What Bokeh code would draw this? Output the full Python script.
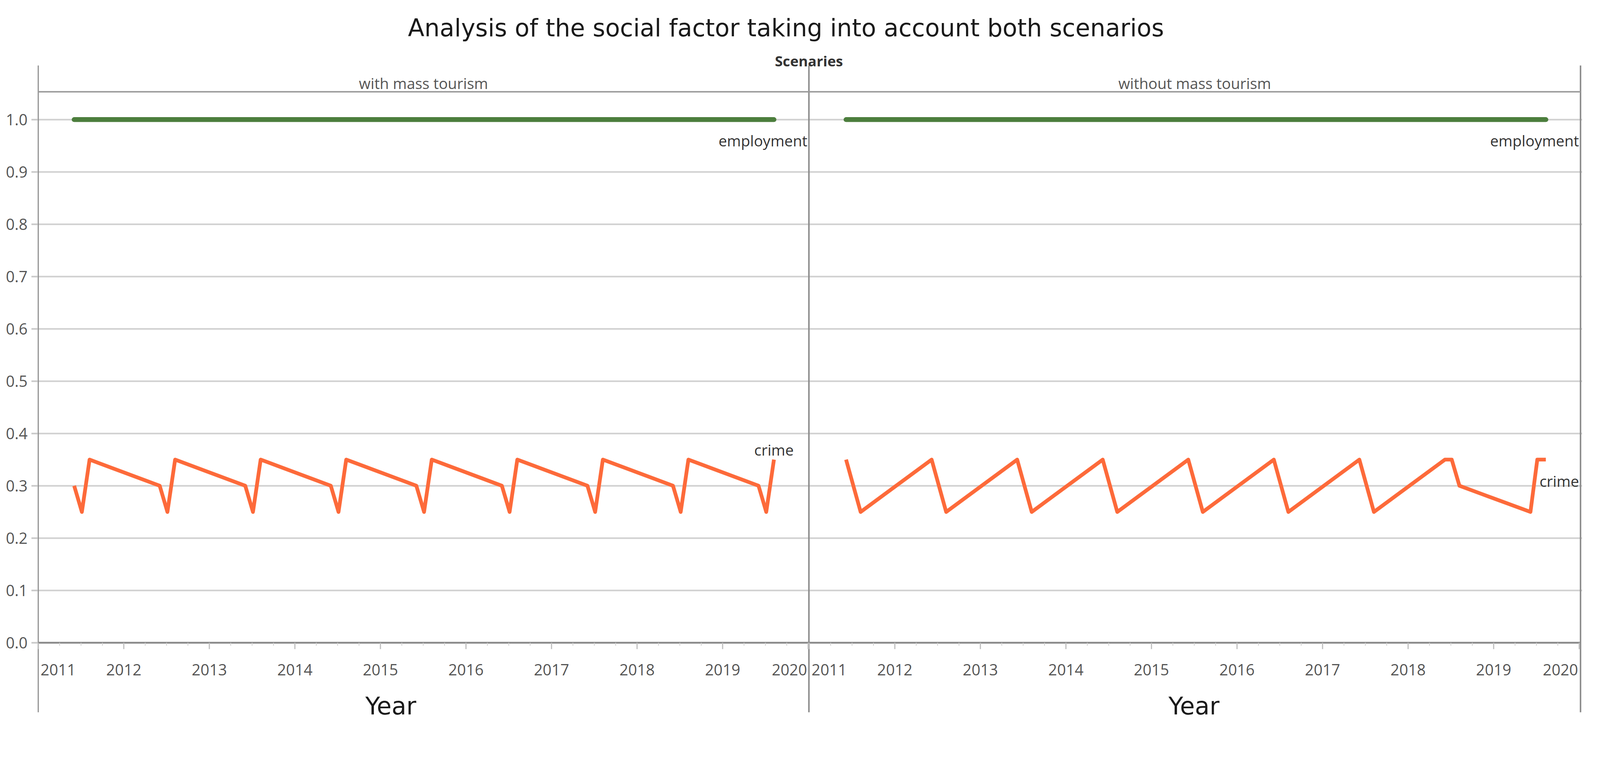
from bokeh.plotting import figure
from bokeh.models import Range1d, LinearAxis, FixedTicker, PrintfTickFormatter, Grid
from bokeh.core.properties import value
from bokeh.embed import file_html
from bokeh.resources import INLINE

# ---------------- data ----------------
title_text = "Analysis of the social factor taking into account both scenarios"
facet_title = "Scenaries"
scenarios = ["with mass tourism", "without mass tourism"]
x_title = "Year"
series_names = ["employment", "crime"]

year_ticks = [2011, 2012, 2013, 2014, 2015, 2016, 2017, 2018, 2019, 2020]
year_labels = ["2011", "2012", "2013", "2014", "2015", "2016", "2017", "2018", "2019", "2020"]
y_ticks = [0.0, 0.1, 0.2, 0.3, 0.4, 0.5, 0.6, 0.7, 0.8, 0.9, 1.0]

# scenario 1: with mass tourism
with_emp_t = [2011.42, 2019.60]
with_emp_v = [1.0, 1.0]
with_crime_t = [2011.42, 2011.51, 2011.60,
                2012.42, 2012.51, 2012.60,
                2013.42, 2013.51, 2013.60,
                2014.42, 2014.51, 2014.60,
                2015.42, 2015.51, 2015.60,
                2016.42, 2016.51, 2016.60,
                2017.42, 2017.51, 2017.60,
                2018.42, 2018.51, 2018.60,
                2019.42, 2019.51, 2019.60]
with_crime_v = [0.30, 0.25, 0.35,
                0.30, 0.25, 0.35,
                0.30, 0.25, 0.35,
                0.30, 0.25, 0.35,
                0.30, 0.25, 0.35,
                0.30, 0.25, 0.35,
                0.30, 0.25, 0.35,
                0.30, 0.25, 0.35,
                0.30, 0.25, 0.35]

# scenario 2: without mass tourism
without_emp_t = [2011.43, 2019.61]
without_emp_v = [1.0, 1.0]
without_crime_t = [2011.43, 2011.60, 2012.43, 2012.60, 2013.43, 2013.60,
                   2014.43, 2014.60, 2015.43, 2015.60, 2016.43, 2016.60,
                   2017.43, 2017.60, 2018.43, 2018.51, 2018.60, 2019.43,
                   2019.51, 2019.61]
without_crime_v = [0.35, 0.25, 0.35, 0.25, 0.35, 0.25,
                   0.35, 0.25, 0.35, 0.25, 0.35, 0.25,
                   0.35, 0.25, 0.35, 0.35, 0.30, 0.25,
                   0.35, 0.35]

# ---------------- layout ----------------
# Layout constants are in picture pixels; K converts them to CSS pixels.
K = 4255 / 4096
OFF = 8


def c(v):
    return v / K


W, H = 4075, 1860
FL = round(c(108)) - OFF                 # frame left (canvas px)
FR = round(c(4216)) - OFF                # frame right (canvas px)
REF_L, REF_R = (FL + OFF) * K, (FR + OFF) * K
REF_T, REF_B = OFF * K, (H + OFF) * K

BORDERS = [109, 2159, 4211]
BORDER_TOP, BORDER_BOT = 182, 1903
HEADER_LINE = 252
Y0_PX, PX_PER_UNIT = 1718, 1392.0
PX_PER_YEAR = 227.5
ORIGINS = [109.5, 2160.0]          # picture px of 2011.0 in each pane
PANES = ["p0", "p1"]

ORANGE = "#fd6a3a"
GREEN = "#4c7e3d"
BORDER_C = "#8c8c8c"
GRID_C = "#d0d0d0"
LABEL_C = "#555555"
FONT = "Open Sans"
TFONT = "DejaVu Sans"


def fs(v):
    return f"{c(v):.1f}px"


def yr(px, i):
    return 2011 + (px - ORIGINS[i]) / PX_PER_YEAR


p = figure(width=W, height=H, output_backend="svg", toolbar_location=None,
           x_range=Range1d(REF_L, REF_R), y_range=Range1d(REF_B, REF_T),
           x_axis_location=None, y_axis_location=None,
           min_border_left=FL, min_border_right=W - FR,
           min_border_top=0, min_border_bottom=0,
           outline_line_color=None, background_fill_color="white",
           border_fill_color="white")
for r in list(p.center):
    if isinstance(r, Grid):
        r.visible = False

p.extra_y_ranges = {"val": Range1d((Y0_PX - REF_B) / PX_PER_UNIT,
                                   (Y0_PX - REF_T) / PX_PER_UNIT)}
p.extra_x_ranges = {PANES[i]: Range1d(yr(REF_L, i), yr(REF_R, i)) for i in range(2)}

# y axis
yaxis = LinearAxis(y_range_name="val", ticker=FixedTicker(ticks=y_ticks),
                   formatter=PrintfTickFormatter(format="%.1f"),
                   axis_line_color=None, major_tick_in=0, major_tick_out=round(c(17)),
                   major_tick_line_color="#c8c8c8", major_tick_line_width=c(4),
                   minor_tick_line_color=None, major_label_standoff=round(c(10)),
                   major_label_text_font=FONT, major_label_text_font_size=fs(41),
                   major_label_text_color=LABEL_C)
p.add_layout(yaxis, "left")
p.add_layout(Grid(dimension=1, ticker=FixedTicker(ticks=y_ticks[1:]), y_range_name="val",
                  grid_line_color=GRID_C, grid_line_width=c(4)))

# table borders
p.segment(x0=BORDERS, y0=[BORDER_TOP] * 3, x1=BORDERS, y1=[BORDER_BOT] * 3,
          line_color=BORDER_C, line_width=c(4))
p.segment(x0=[REF_L], y0=[HEADER_LINE], x1=[BORDERS[-1]], y1=[HEADER_LINE],
          line_color="#9a9a9a", line_width=c(4))
p.segment(x0=[REF_L], y0=[0.0], x1=[BORDERS[-1]], y1=[0.0], y_range_name="val",
          line_color=BORDER_C, line_width=c(5))

# titles
p.text(x=[2098], y=[83], text=[title_text], text_align="center", text_baseline="alphabetic",
       text_font=value(TFONT), text_font_size=fs(64), text_color="#1a1a1a")
p.text(x=[BORDERS[1]], y=[170], text=[facet_title], text_align="center",
       text_baseline="alphabetic", text_font=value(FONT), text_font_size=fs(38),
       text_font_style="bold", text_color="#333333")
p.text(x=[(BORDERS[0] + BORDERS[1]) / 2, (BORDERS[1] + BORDERS[2]) / 2], y=[229, 229],
       text=scenarios, text_align="center", text_baseline="alphabetic",
       text_font=value(FONT), text_font_size=fs(40), text_color=LABEL_C)
p.text(x=[1047, 3183], y=[1887, 1887], text=[x_title, x_title], text_align="center",
       text_baseline="alphabetic", text_font=value(TFONT), text_font_size=fs(64),
       text_color="#1a1a1a")

# x axes (one per pane)
minor = [y + q for y in year_ticks[:-1] for q in (0.25, 0.5, 0.75)]
for i, name in enumerate(PANES):
    p.segment(x0=year_ticks, y0=[Y0_PX] * len(year_ticks), x1=year_ticks,
              y1=[Y0_PX + 17] * len(year_ticks), x_range_name=name,
              line_color="#bdbdbd", line_width=c(3))
    p.segment(x0=minor, y0=[Y0_PX] * len(minor), x1=minor, y1=[Y0_PX + 8] * len(minor),
              x_range_name=name, line_color="#cfcfcf", line_width=c(2))
    p.text(x=year_ticks[1:-1], y=[1790] * (len(year_ticks) - 2), text=year_labels[1:-1],
           x_range_name=name, text_align="center", text_baseline="alphabetic",
           text_font=value(FONT), text_font_size=fs(41), text_color=LABEL_C)
    p.text(x=[year_ticks[0]], y=[1790], text=[year_labels[0]], x_range_name=name,
           x_offset=c(6), text_align="left", text_baseline="alphabetic",
           text_font=value(FONT), text_font_size=fs(41), text_color=LABEL_C)
    p.text(x=[year_ticks[-1]], y=[1790], text=[year_labels[-1]], x_range_name=name,
           x_offset=-c(3), text_align="right", text_baseline="alphabetic",
           text_font=value(FONT), text_font_size=fs(41), text_color=LABEL_C)

# series
panes_data = [(with_emp_t, with_emp_v, with_crime_t, with_crime_v),
              (without_emp_t, without_emp_v, without_crime_t, without_crime_v)]
for i, (et, ev, ct, cv) in enumerate(panes_data):
    name = PANES[i]
    p.line(et, ev, x_range_name=name, y_range_name="val", line_color=GREEN,
           line_width=c(13), line_cap="round")
    p.line(ct, cv, x_range_name=name, y_range_name="val", line_color=ORANGE,
           line_width=c(10), line_join="round")
    pane_end = yr(BORDERS[i + 1], i)
    p.text(x=[pane_end], y=[ev[-1]], text=[series_names[0]], x_range_name=name,
           y_range_name="val", x_offset=-c(4), y_offset=c(56), text_align="right",
           text_baseline="alphabetic", text_font=value(FONT), text_font_size=fs(40),
           text_color="#333333")

p.text(x=[with_crime_t[-1]], y=[with_crime_v[-1]], text=[series_names[1]], x_range_name="p0",
       y_range_name="val", y_offset=-c(26), text_align="center", text_baseline="alphabetic",
       text_font=value(FONT), text_font_size=fs(40), text_color="#333333")
p.text(x=[yr(BORDERS[2], 1)], y=[without_crime_v[-1]], text=[series_names[1]],
       x_range_name="p1", y_range_name="val", x_offset=-c(4), y_offset=c(57),
       text_align="right", text_baseline="alphabetic", text_font=value(FONT),
       text_font_size=fs(40), text_color="#333333")

open("out.html", "w").write(file_html(p, INLINE))
